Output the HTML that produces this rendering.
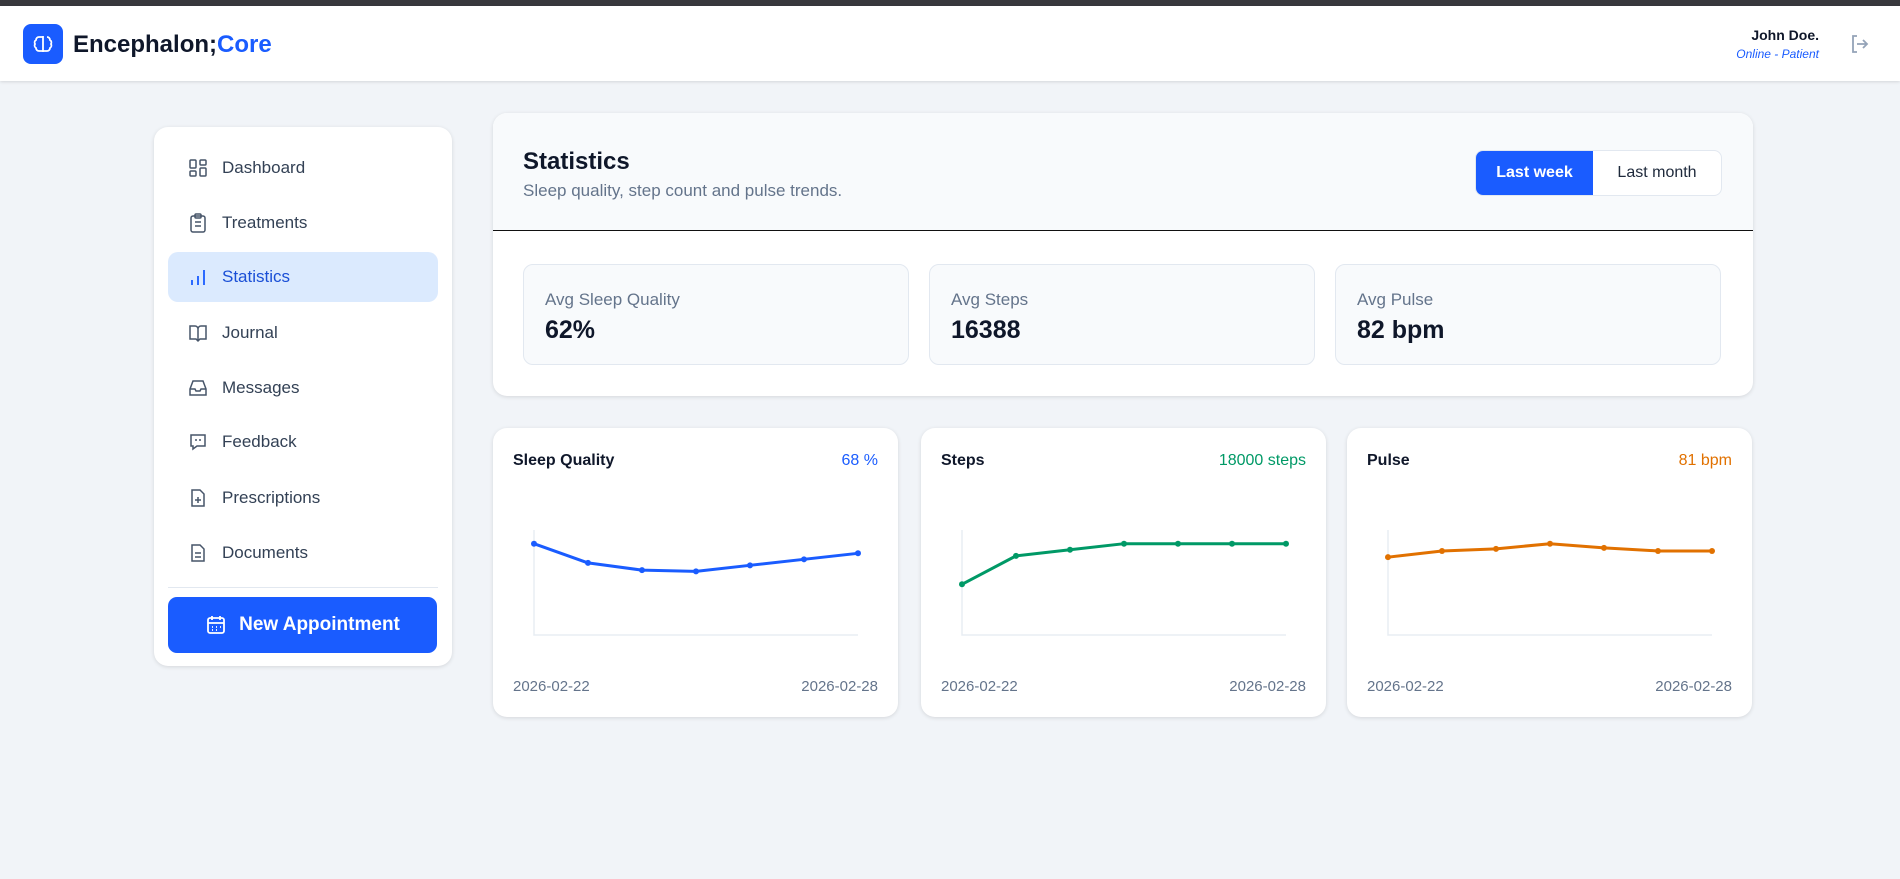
<!DOCTYPE html>
<html><head><meta charset="utf-8">
<style>
*{box-sizing:border-box;margin:0;padding:0}
body{width:1900px;height:879px;background:#f1f4f8;font-family:"Liberation Sans",sans-serif;position:relative;overflow:hidden;color:#0f172a}
.abs{position:absolute}
.topbar{left:0;top:0;width:1900px;height:6px;background:#38383d}
.header{left:0;top:6px;width:1900px;height:75px;background:#fff;box-shadow:0 1px 3px rgba(0,0,0,.12)}
.card{background:#fff;border-radius:14px;box-shadow:0 1px 4px rgba(0,0,0,.12)}
.nav{left:14px;width:270px;height:50px;display:flex;align-items:center;font-size:17px;color:#334155;border-radius:10px}
.nav svg{margin-left:20px;margin-right:14px}
.stat{background:#f8fafc;border:1px solid #e2e8f0;border-radius:10px;width:386px;height:101px;top:151px}
.stat .l{position:absolute;left:21px;top:25px;font-size:17px;color:#64748b}
.stat .v{position:absolute;left:21px;top:51px;font-size:25px;font-weight:bold;color:#0f172a}
.ctitle{left:20px;top:24px;font-size:16px;font-weight:bold}
.cval{right:20px;top:24px;font-size:16px}
.date{top:250px;font-size:15px;color:#64748b}
</style></head><body>
<div class="abs topbar"></div>
<div class="abs header">
  <div class="abs" style="left:23px;top:18px;width:40px;height:40px;background:#1a5cff;border-radius:8px;display:flex;align-items:center;justify-content:center">
    <svg width="24" height="24" viewBox="0 0 24 24" fill="none" stroke="#fff" stroke-width="1.8"><path d="M12 4v16M8 5a3 3 0 0 0-3 3 3 3 0 0 0-1 4 3 3 0 0 0 1 4 3 3 0 0 0 3 3h4V5zM16 5a3 3 0 0 1 3 3 3 3 0 0 1 1 4 3 3 0 0 1-1 4 3 3 0 0 1-3 3h-4"/></svg>
  </div>
  <div class="abs" style="left:73px;top:25px;font-size:24px;font-weight:bold;color:#0f172a">Encephalon;<span style="color:#1a5cff">Core</span></div>
  <div class="abs" style="right:81px;top:21px;font-size:14px;font-weight:bold;text-align:right">John Doe.</div>
  <div class="abs" style="right:81px;top:41px;font-size:12px;font-style:italic;color:#1a5cff">Online - Patient</div>
  <svg class="abs" style="left:1848px;top:26px" width="24" height="24" viewBox="0 0 24 24" fill="none" stroke="#94a3b8" stroke-width="1.8"><path d="M9 4H5v16h4M15 8l4 4-4 4M19 12H9"/></svg>
</div>

<div class="abs card" style="left:154px;top:127px;width:298px;height:539px">
  <div class="abs nav" style="top:16px"><svg width="20" height="20" viewBox="0 0 20 20" fill="none" stroke="#475569" stroke-width="1.5"><rect x="2" y="2" width="6" height="8" rx="1"/><rect x="12" y="2" width="6" height="5" rx="1"/><rect x="2" y="13" width="6" height="5" rx="1"/><rect x="12" y="10" width="6" height="8" rx="1"/></svg>Dashboard</div>
  <div class="abs nav" style="top:71px"><svg width="20" height="20" viewBox="0 0 20 20" fill="none" stroke="#475569" stroke-width="1.5"><rect x="3" y="3" width="14" height="16" rx="2"/><rect x="7" y="1" width="6" height="4" rx="1"/><path d="M7 9h6M7 13h6"/></svg>Treatments</div>
  <div class="abs nav" style="top:125px;background:#dbeafe;color:#1a4fd6"><svg width="20" height="20" viewBox="0 0 20 20" fill="none" stroke="#1a5cff" stroke-width="1.8"><path d="M4 18v-5M10 18V9M16 18V3"/></svg>Statistics</div>
  <div class="abs nav" style="top:181px"><svg width="20" height="20" viewBox="0 0 20 20" fill="none" stroke="#475569" stroke-width="1.5"><path d="M10 5v13M2 3h5a3 3 0 0 1 3 3 3 3 0 0 1 3-3h5v13h-6l-2 2-2-2H2z"/></svg>Journal</div>
  <div class="abs nav" style="top:236px"><svg width="20" height="20" viewBox="0 0 20 20" fill="none" stroke="#475569" stroke-width="1.5"><path d="M2 11l3-8h10l3 8v6H2zM2 11h5l1 2h4l1-2h5"/></svg>Messages</div>
  <div class="abs nav" style="top:290px"><svg width="20" height="20" viewBox="0 0 20 20" fill="none" stroke="#475569" stroke-width="1.5"><path d="M3 3h14v11H9l-4 3v-3H3z"/><path d="M8 7v2M12 7v2"/></svg>Feedback</div>
  <div class="abs nav" style="top:346px"><svg width="20" height="20" viewBox="0 0 20 20" fill="none" stroke="#475569" stroke-width="1.5"><path d="M4 2h8l4 4v12H4zM10 9v6M7 12h6"/></svg>Prescriptions</div>
  <div class="abs nav" style="top:401px"><svg width="20" height="20" viewBox="0 0 20 20" fill="none" stroke="#475569" stroke-width="1.5"><path d="M4 2h8l4 4v12H4zM7 10h6M7 14h6"/></svg>Documents</div>
  <div class="abs" style="left:14px;top:460px;width:270px;height:1px;background:#e2e8f0"></div>
  <div class="abs" style="left:14px;top:470px;width:269px;height:56px;background:#1a5cff;border-radius:9px;color:#fff;font-size:19px;font-weight:bold;display:flex;align-items:center;justify-content:center"><svg width="22" height="22" viewBox="0 0 22 22" fill="none" stroke="#fff" stroke-width="1.8" style="margin-right:12px"><rect x="3" y="4" width="16" height="15" rx="2"/><path d="M3 9h16M7 2v4M15 2v4M7 13h1M11 13h1M15 13h1M7 16h1M11 16h1"/></svg>New Appointment</div>
</div>

<div class="abs card" style="left:493px;top:113px;width:1260px;height:283px;background:#fff">
  <div class="abs" style="left:0;top:0;width:1260px;height:118px;background:#f8fafc;border-radius:14px 14px 0 0;border-bottom:1.5px solid #111"></div>
  <div class="abs" style="left:30px;top:35px;font-size:24px;font-weight:bold">Statistics</div>
  <div class="abs" style="left:30px;top:68px;font-size:17px;color:#64748b">Sleep quality, step count and pulse trends.</div>
  <div class="abs" style="left:982px;top:37px;width:247px;height:46px;border:1px solid #e2e8f0;border-radius:8px;background:#fff;overflow:hidden;display:flex">
    <div style="width:117px;background:#1a5cff;color:#fff;font-size:16px;font-weight:bold;display:flex;align-items:center;justify-content:center">Last week</div>
    <div style="flex:1;color:#1e293b;font-size:16px;display:flex;align-items:center;justify-content:center">Last month</div>
  </div>
  <div class="abs stat" style="left:30px"><div class="l">Avg Sleep Quality</div><div class="v">62%</div></div>
  <div class="abs stat" style="left:436px"><div class="l">Avg Steps</div><div class="v">16388</div></div>
  <div class="abs stat" style="left:842px"><div class="l">Avg Pulse</div><div class="v">82 bpm</div></div>
</div>

<div id="charts"></div>
<script>
const dates = ["2026-02-22","2026-02-23","2026-02-24","2026-02-25","2026-02-26","2026-02-27","2026-02-28"];
const sleepValues = [76,60,54,53,58,63,68];
const stepsValues = [10000,15600,16800,18000,18000,18000,18000];
const pulseValues = [75,81,83,88,84,81,81];
const chartTitles = ["Sleep Quality","Steps","Pulse"];
const chartLabels = ["68 %","18000 steps","81 bpm"];
const chartColors = ["#1a5cff","#009966","#e17100"];
const chartNames = ["sleep","steps","pulse"];
const series = [sleepValues, stepsValues, pulseValues];
const lefts = [493,921,1347];
const NS = "http://www.w3.org/2000/svg";
const root = document.getElementById('charts');
series.forEach((vals, i) => {
  const card = document.createElement('div');
  card.className = 'abs card';
  card.style.cssText = `left:${lefts[i]}px;top:428px;width:405px;height:289px`;
  
  
  const t = document.createElement('div');
  t.className = 'abs ctitle'; t.textContent = chartTitles[i];
  
  
  const v = document.createElement('div');
  v.className = 'abs cval'; v.textContent = chartLabels[i]; v.style.color = chartColors[i];
  
  
  const d1 = document.createElement('div');
  d1.className = 'abs date'; d1.style.left = '20px'; d1.textContent = dates[0];
  
  
  const d2 = document.createElement('div');
  d2.className = 'abs date'; d2.style.right = '20px'; d2.textContent = dates[dates.length-1];
  
  
  card.append(t, v, d1, d2);
  const svg = document.createElementNS(NS, 'svg');
  svg.setAttribute('width', '405'); svg.setAttribute('height', '289');
  svg.style.cssText = 'position:absolute;left:0;top:0';
  
  
  const x0 = 41, x1 = 365, yTop = 102, yBot = 207;
  const max = Math.max(...vals) * 1.15;
  const xs = k => x0 + (x1 - x0) * k / (vals.length - 1);
  const ys = val => yBot - (yBot - yTop) * val / max;
  const axis = document.createElementNS(NS, 'path');
  axis.setAttribute('d', `M${x0} ${yTop}V${yBot}H${x1}`);
  axis.setAttribute('fill', 'none'); axis.setAttribute('stroke', '#e8edf3'); axis.setAttribute('stroke-width', '1.5');
  
  
  svg.appendChild(axis);
  const line = document.createElementNS(NS, 'polyline');
  line.setAttribute('points', vals.map((val, k) => xs(k) + ',' + ys(val)).join(' '));
  line.setAttribute('fill', 'none'); line.setAttribute('stroke', chartColors[i]); line.setAttribute('stroke-width', '3');
  line.setAttribute('stroke-linejoin', 'round');
  
  
  svg.appendChild(line);
  vals.forEach((val, k) => {
    const c = document.createElementNS(NS, 'circle');
    c.setAttribute('cx', xs(k)); c.setAttribute('cy', ys(val)); c.setAttribute('r', '3');
    c.setAttribute('fill', chartColors[i]);
    
    
    svg.appendChild(c);
  });
  card.appendChild(svg);
  root.appendChild(card);
});
</script>
</body></html>
